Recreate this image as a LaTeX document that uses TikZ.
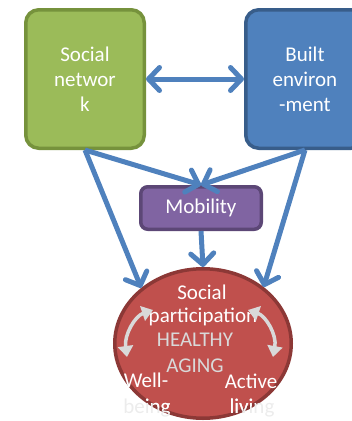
\documentclass[tikz,border=0pt]{standalone}
\usepackage{fontspec}
\setmainfont{Carlito}
\usetikzlibrary{arrows.meta,shapes.geometric}
\definecolor{gfill}{HTML}{9BBB59}
\definecolor{gline}{HTML}{76923C}
\definecolor{bfill}{HTML}{4F81BD}
\definecolor{bline}{HTML}{385D8A}
\definecolor{pfill}{HTML}{8064A2}
\definecolor{pline}{HTML}{5C4776}
\definecolor{rfill}{HTML}{C0504D}
\definecolor{rline}{HTML}{8C3836}
\definecolor{arrowblue}{HTML}{4F81BD}
\definecolor{lgray}{HTML}{D9D9D9}
\definecolor{ghost}{HTML}{ECECEC}
\tikzset{
  bigbox/.style={rectangle, rounded corners=13pt, line width=3.5pt, minimum width=118.5pt, minimum height=138.5pt, inner sep=0pt, text=white, align=center, font=\fontsize{21}{25}\selectfont},
  midbox/.style={rectangle, rounded corners=7pt, line width=3.5pt, fill=pfill, draw=pline, minimum width=120.5pt, minimum height=42.5pt, inner sep=0pt, text=white, font=\fontsize{21}{25}\selectfont},
  flow/.style={draw=arrowblue, line width=5pt, -{Straight Barb[length=11pt,width=23pt,line cap=round,line join=round]}},
  flow2/.style={draw=arrowblue, line width=5pt, {Straight Barb[length=11pt,width=23pt,line cap=round,line join=round]}-{Straight Barb[length=11pt,width=23pt,line cap=round,line join=round]}},
  cyc/.style={draw=lgray, line width=3.5pt, {Triangle[length=11pt,width=15pt]}-{Triangle[length=11pt,width=15pt]}},
  lbl/.style={anchor=base, inner sep=0pt, font=\fontsize{21}{25}\selectfont},
}
\begin{document}
\begin{tikzpicture}[x=1pt,y=-1pt]
\useasboundingbox (0,0) rectangle (352,421);
\clip (0,0) rectangle (352,421);
% boxes
\node[bigbox, fill=gfill, draw=gline] (sn) at (85,79) {Social\\networ\\k};
\node[bigbox, fill=bfill, draw=bline] (be) at (305,79) {Built\\environ\\-ment};
\node[midbox] (mob) at (201,208) {Mobility};
\node[ellipse, fill=rfill, draw=rline, line width=3.5pt, minimum width=176.5pt, minimum height=149.5pt, inner sep=0pt] (ha) at (203,343.5) {};
% texts in circle
\node[lbl, text=white] (t1) at (202,299) {Social};
\node[lbl, text=white] (t2) at (203,322) {participation};
\node[lbl, text=lgray] (t3) at (195,346) {HEALTHY};
\node[lbl, text=lgray] (t4) at (195,372) {AGING};
\node[lbl, text=white] (t5) at (146,387) {Well-};
\node[lbl, text=white] (t7) at (251,388) {Active};
\node[lbl, text=ghost] (t6) at (147,413) {being};
\node[lbl, text=ghost] (t8) at (252,413) {living};
\begin{scope}
  \clip (203,343.5) ellipse [x radius=86.5, y radius=74.5];
  \node[lbl, text=white] (t6w) at (147,413) {being};
  \node[lbl, text=white] (t8w) at (252,413) {living};
\end{scope}
% cycle arrows
\coordinate (la) at (153,310);
\coordinate (lb) at (127,357);
\coordinate (ra) at (248,310);
\coordinate (rb) at (273,357);
\draw[cyc] (la) .. controls (135,316) and (124,335) .. (lb);
\draw[cyc] (ra) .. controls (266,316) and (277,335) .. (rb);
% connectors
\draw[flow2] (sn.east) -- (be.west);
\draw[flow] (sn.south) -- (mob.north);
\draw[flow] (be.south) -- (mob.north);
\draw[flow] (sn.south) -- (ha.138);
\draw[flow] (be.south) -- (ha.43);
\draw[flow] (mob.south) -- (ha.north);
\end{tikzpicture}
\end{document}
